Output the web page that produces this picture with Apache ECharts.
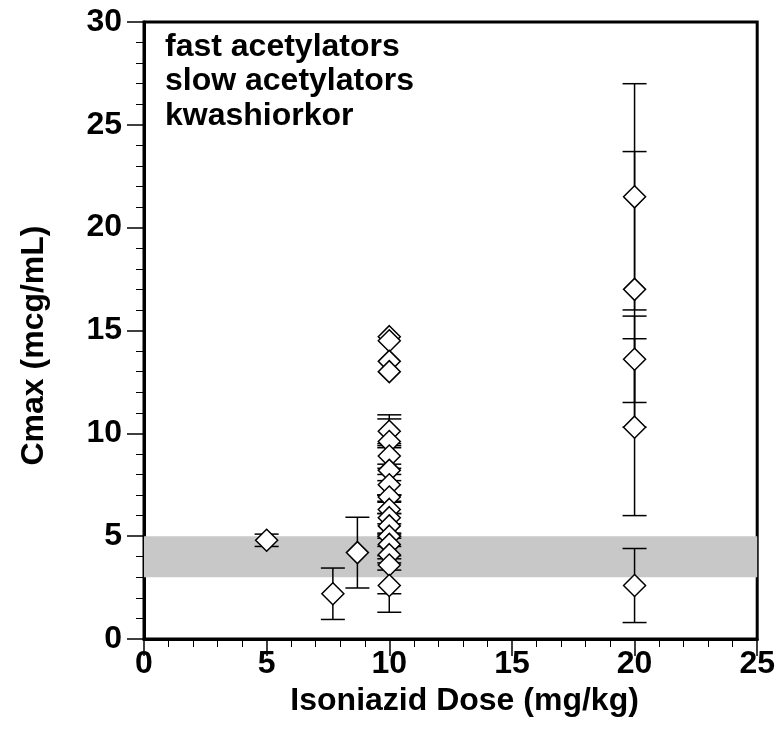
<!DOCTYPE html>
<html>
<head>
<meta charset="utf-8">
<script src="https://cdn.jsdelivr.net/npm/echarts@6/dist/echarts.min.js"></script>
<style>
html,body{margin:0;padding:0;background:#fff;}
#chart{width:778px;height:749px;}
</style>
</head>
<body>
<div id="chart"></div>
<script>
// Data
const doses = [5, 7.7, 8.7,
  10, 10, 10, 10, 10, 10, 10, 10, 10, 10, 10, 10, 10, 10, 10, 10, 10, 10,
  20, 20, 20, 20, 20];
const cmax = [4.8, 2.2, 4.2,
  14.7, 14.5, 13.5, 13.0, 10.1, 9.6, 8.9, 8.2, 7.5, 6.9, 6.3, 5.9, 5.5, 5.0, 4.6, 4.1, 3.6, 2.6,
  21.5, 17.0, 13.6, 10.3, 2.6];
const sd = [0.3, 1.25, 1.72,
  0, 0, 0, 0, 0.8, 1.1, 0.6, 1.2, 0.5, 0.8, 0.7, 0.8, 0.6, 1.65, 0.55, 0.4, 1.4, 1.3,
  5.5, 6.7, 2.1, 4.3, 1.8];
const bandLow = 3;
const bandHigh = 5;
const legendLines = ['fast acetylators', 'slow acetylators', 'kwashiorkor'];
const xTitle = 'Isoniazid Dose (mg/kg)';
const yTitle = 'Cmax (mcg/mL)';

const pts = doses.map((d, i) => [d, cmax[i]]);
const errs = [];
doses.forEach((d, i) => { if (sd[i] > 0) errs.push([d, cmax[i] - sd[i], cmax[i] + sd[i]]); });

const FONT = 'Liberation Sans, Arial, sans-serif';
const chart = echarts.init(document.getElementById('chart'));
chart.setOption({
  animation: false,
  backgroundColor: '#fff',
  grid: {left: 144, right: 18, top: 22, bottom: 110, show: true, borderColor: '#000', borderWidth: 3, backgroundColor: 'transparent'},
  xAxis: {
    type: 'value', min: 0, max: 25, interval: 5,
    name: xTitle, nameLocation: 'middle', nameGap: 41,
    nameTextStyle: {fontFamily: FONT, fontWeight: 'bold', fontSize: 32, color: '#000', padding: [0, 0, 0, 28]},
    axisLine: {show: true, onZero: false, lineStyle: {color: '#000', width: 3}},
    axisTick: {show: true, inside: false, length: 17, lineStyle: {color: '#000', width: 1.5}},
    minorTick: {show: true, splitNumber: 5, length: 8, lineStyle: {color: '#000', width: 1}},
    axisLabel: {fontFamily: FONT, fontWeight: 'bold', fontSize: 32, color: '#000', margin: 9},
    splitLine: {show: false}
  },
  yAxis: {
    type: 'value', min: 0, max: 30, interval: 5,
    name: yTitle, nameLocation: 'middle', nameGap: 94,
    nameTextStyle: {fontFamily: FONT, fontWeight: 'bold', fontSize: 32, color: '#000', padding: [0, 30, 0, 0]},
    axisLine: {show: true, onZero: false, lineStyle: {color: '#000', width: 3}},
    axisTick: {show: true, inside: false, length: 17, lineStyle: {color: '#000', width: 1.5}},
    minorTick: {show: true, splitNumber: 5, length: 8, lineStyle: {color: '#000', width: 1}},
    axisLabel: {fontFamily: FONT, fontWeight: 'bold', fontSize: 32, color: '#000', margin: 22},
    splitLine: {show: false}
  },
  graphic: legendLines.map((t, i) => ({
    type: 'text', left: 165, top: 31 + i * 34.5, z: 10,
    style: {text: t, font: 'bold 32px ' + FONT, fill: '#000'}
  })),
  series: [
    {
      type: 'scatter', data: [], silent: true,
      markArea: {silent: true, itemStyle: {color: '#c8c8c8'}, data: [[{yAxis: bandLow}, {yAxis: bandHigh}]]}
    },
    {
      type: 'custom', data: errs, z: 3, silent: true,
      renderItem: function (params, api) {
        const x = api.value(0);
        const lo = api.coord([x, api.value(1)]);
        const hi = api.coord([x, api.value(2)]);
        const w = 12;
        const st = {stroke: '#000', lineWidth: 1.5};
        return {type: 'group', children: [
          {type: 'line', shape: {x1: lo[0], y1: lo[1], x2: hi[0], y2: hi[1]}, style: st},
          {type: 'line', shape: {x1: lo[0] - w, y1: lo[1], x2: lo[0] + w, y2: lo[1]}, style: st},
          {type: 'line', shape: {x1: hi[0] - w, y1: hi[1], x2: hi[0] + w, y2: hi[1]}, style: st}
        ]};
      }
    },
    {
      type: 'scatter', data: pts, z: 4, symbol: 'diamond', symbolSize: [22, 22],
      itemStyle: {color: '#fff', borderColor: '#000', borderWidth: 1.5, opacity: 1}
    }
  ]
});
</script>
</body>
</html>
